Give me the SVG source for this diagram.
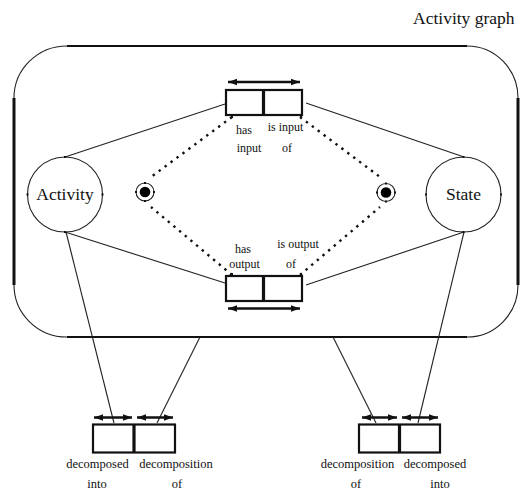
<svg xmlns="http://www.w3.org/2000/svg" width="522" height="496" viewBox="0 0 522 496" font-family="'Liberation Serif', 'Times New Roman', serif">
  <style>
    text { font-family: "Liberation Serif", "Times New Roman", serif; fill: #111; }
    .big { font-size: 17.5px; }
    .mid { font-size: 12px; text-anchor: middle; }
    .sm { font-size: 12.5px; text-anchor: middle; }
    .thin { stroke: #222; stroke-width: 1.1; fill: none; }
    .edge { stroke: #111; fill: none; }
    .box { stroke: #111; stroke-width: 2.2; fill: #fff; }
    .div { stroke: #111; stroke-width: 3.2; }
    .dir { stroke: #111; stroke-width: 2.4; marker-start: url(#head); marker-end: url(#head); }
    .dots { stroke: #111; stroke-width: 2.4; stroke-dasharray: 2.4 5; fill: none; }
    .tick { fill: #111; }
  </style>
  <defs>
    <marker id="head" markerUnits="userSpaceOnUse" markerWidth="10" markerHeight="8" refX="9" refY="4" orient="auto-start-reverse">
      <path d="M0,0.8 L9,4 L0,7.2 z" fill="#111"/>
    </marker>
  </defs>

  <text class="big" x="413" y="24">Activity graph</text>

  <!-- outer boundary: thin corner arcs, heavy straight sides -->
  <g id="boundary">
    <path class="thin" d="M14,98 A53,52 0 0 1 67,46"/>
    <path class="thin" d="M467,46 A51,52 0 0 1 518,98"/>
    <path class="thin" d="M518,285 A51,52 0 0 1 467,337"/>
    <path class="thin" d="M67,337 A53,52 0 0 1 14,285"/>
    <line class="edge" x1="14" y1="98" x2="14" y2="285" stroke-width="3"/>
    <line class="edge" x1="518" y1="98" x2="518" y2="285" stroke-width="3"/>
    <line class="edge" x1="67" y1="46" x2="467" y2="46" stroke-width="2.2"/>
    <line class="edge" x1="67" y1="337" x2="467" y2="337" stroke-width="2.2"/>
  </g>

  <g id="connectors">
    <!-- solid links between relation boxes and nodes -->
    <line class="thin" x1="225" y1="104" x2="65" y2="157"/>
    <line class="thin" x1="306" y1="103" x2="464" y2="157"/>
    <line class="thin" x1="65" y1="232" x2="225" y2="283"/>
    <line class="thin" x1="306" y1="285" x2="464" y2="232"/>
    <!-- decomposition links -->
    <line class="thin" x1="66" y1="232" x2="114" y2="423"/>
    <line class="thin" x1="200" y1="337" x2="157" y2="423"/>
    <line class="thin" x1="333" y1="337" x2="376" y2="423"/>
    <line class="thin" x1="464" y1="232" x2="418" y2="423"/>
    <!-- dotted links to the start/end markers -->
    <line class="dots" x1="232" y1="117" x2="151" y2="177"/>
    <line class="dots" x1="300" y1="117" x2="380" y2="177"/>
    <line class="dots" x1="232" y1="275" x2="151" y2="207"/>
    <line class="dots" x1="300" y1="275" x2="380" y2="207"/>
  </g>

  <g id="activity">
    <circle class="thin" cx="65" cy="194.5" r="37.5"/>
    <rect class="tick" x="64" y="156" width="2" height="2"/>
    <rect class="tick" x="64" y="231" width="2" height="2"/>
    <rect class="tick" x="26.5" y="193.5" width="2" height="2"/>
    <rect class="tick" x="101.5" y="193.5" width="2" height="2"/>
    <text class="big" x="65" y="200" text-anchor="middle">Activity</text>
  </g>

  <g id="state">
    <circle class="thin" cx="463.5" cy="194.5" r="37.5"/>
    <rect class="tick" x="462.5" y="156" width="2" height="2"/>
    <rect class="tick" x="462.5" y="231" width="2" height="2"/>
    <rect class="tick" x="425" y="193.5" width="2" height="2"/>
    <rect class="tick" x="500" y="193.5" width="2" height="2"/>
    <text class="big" x="463.5" y="200" text-anchor="middle">State</text>
  </g>

  <g id="marker-left">
    <circle class="thin" cx="145" cy="192" r="9"/>
    <circle cx="145" cy="192" r="5.3" fill="#000"/>
    <rect class="tick" x="144" y="182" width="2" height="2"/>
    <rect class="tick" x="144" y="200" width="2" height="2"/>
    <rect class="tick" x="135" y="191" width="2" height="2"/>
    <rect class="tick" x="153" y="191" width="2" height="2"/>
  </g>

  <g id="marker-right">
    <circle class="thin" cx="386" cy="192.5" r="9"/>
    <circle cx="386" cy="192.5" r="5.3" fill="#000"/>
    <rect class="tick" x="385" y="182.5" width="2" height="2"/>
    <rect class="tick" x="385" y="200.5" width="2" height="2"/>
    <rect class="tick" x="376" y="191.5" width="2" height="2"/>
    <rect class="tick" x="394" y="191.5" width="2" height="2"/>
  </g>

  <g id="input-relation">
    <line class="dir" x1="228" y1="82" x2="300" y2="82"/>
    <rect class="box" x="226" y="90" width="76" height="25"/>
    <line class="div" x1="263.5" y1="90" x2="263.5" y2="115"/>
    <rect class="tick" x="231" y="115" width="2" height="3"/>
    <rect class="tick" x="300" y="115" width="2" height="3"/>
    <text class="mid" x="244" y="134">has</text>
    <text class="mid" x="249" y="152">input</text>
    <text class="mid" x="285.5" y="131">is input</text>
    <text class="mid" x="287" y="152">of</text>
  </g>

  <g id="output-relation">
    <rect class="box" x="226" y="276" width="76" height="25"/>
    <line class="div" x1="263.5" y1="276" x2="263.5" y2="301"/>
    <line class="dir" x1="228" y1="308.5" x2="300" y2="308.5"/>
    <rect class="tick" x="231" y="273" width="2" height="3"/>
    <rect class="tick" x="300" y="273" width="2" height="3"/>
    <text class="mid" x="243" y="253">has</text>
    <text class="mid" x="244.5" y="268">output</text>
    <text class="mid" x="298" y="248">is output</text>
    <text class="mid" x="291" y="268">of</text>
  </g>

  <g id="activity-decomposition">
    <line class="dir" x1="94" y1="417.5" x2="132" y2="417.5"/>
    <line class="dir" x1="137" y1="417.5" x2="173" y2="417.5"/>
    <rect class="box" x="93" y="424.5" width="82" height="28"/>
    <line class="div" x1="134" y1="424.5" x2="134" y2="452.5"/>
    <text class="sm" x="97.5" y="468">decomposed</text>
    <text class="sm" x="97" y="488">into</text>
    <text class="sm" x="176" y="468">decomposition</text>
    <text class="sm" x="177" y="488">of</text>
  </g>

  <g id="state-decomposition">
    <line class="dir" x1="362" y1="417.5" x2="397" y2="417.5"/>
    <line class="dir" x1="402" y1="417.5" x2="438" y2="417.5"/>
    <rect class="box" x="359" y="424.5" width="81" height="28"/>
    <line class="div" x1="399.5" y1="424.5" x2="399.5" y2="452.5"/>
    <text class="sm" x="357.5" y="468">decomposition</text>
    <text class="sm" x="356" y="488">of</text>
    <text class="sm" x="435" y="468">decomposed</text>
    <text class="sm" x="440" y="488">into</text>
  </g>
</svg>
